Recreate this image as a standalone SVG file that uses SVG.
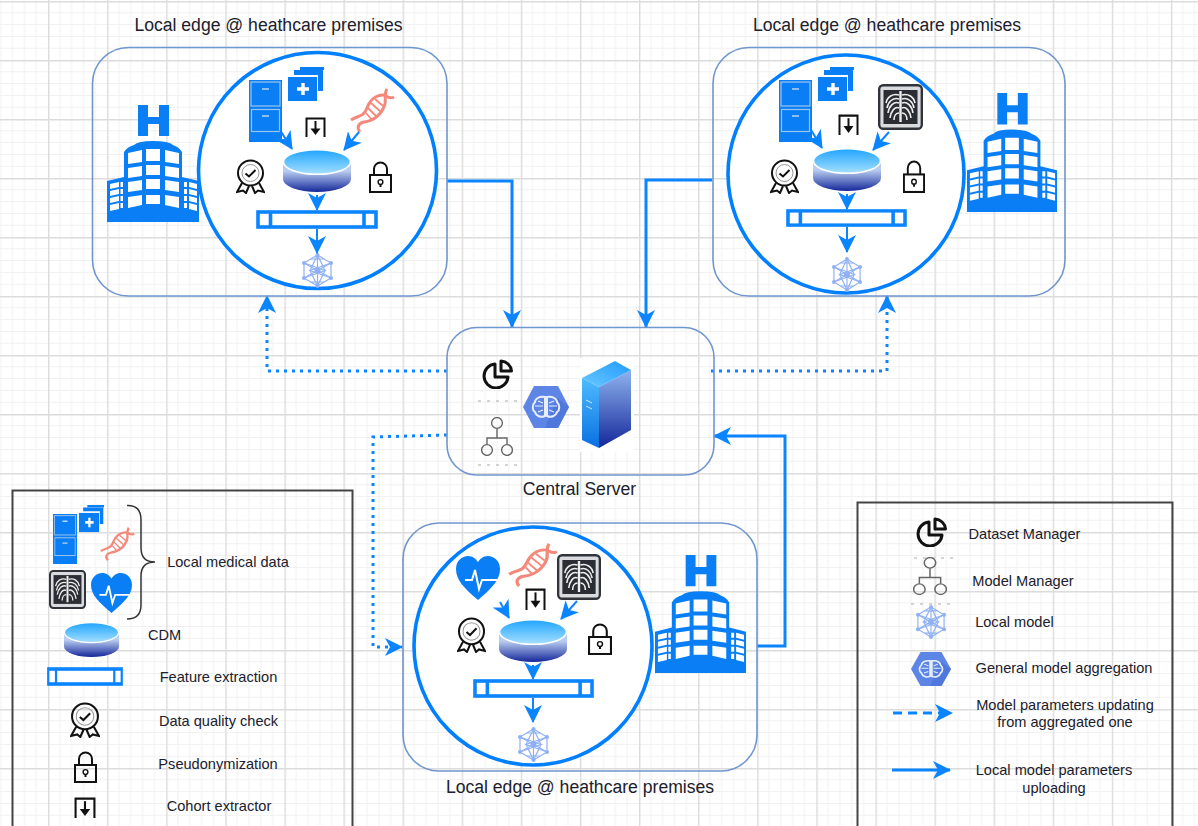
<svg xmlns="http://www.w3.org/2000/svg" xmlns:xlink="http://www.w3.org/1999/xlink" width="1198" height="826" viewBox="0 0 1198 826">
<style>
text{font-family:"Liberation Sans",Arial,sans-serif;fill:#20202c;text-anchor:middle}
.t{font-size:17.6px}.l{font-size:14.6px}
.edge{fill:none;stroke:#6f96cf;stroke-width:1.6}
.ring{fill:#fff;stroke:#007fff;stroke-width:3.6}
.leg{fill:none;stroke:#444;stroke-width:2}
.c{fill:none;stroke:#0a84ff;stroke-width:3}
.d{stroke-dasharray:3 5}
.i{fill:none;stroke:#0a84ff;stroke-width:2}
.k{fill:none;stroke:#111;stroke-width:2}
.w{fill:#fff}
.b{fill:#0a7ff5}
</style>
<defs>
<pattern id="grid" patternUnits="userSpaceOnUse" x="48" y="1" width="59.1" height="59">
<path d="M11.8,0V59M23.6,0V59M35.5,0V59M47.3,0V59M0,11.8H59.1M0,23.6H59.1M0,35.4H59.1M0,47.2H59.1" stroke="#f1f1f1" stroke-width="1" fill="none"/>
<path d="M0.7,0V59M0,0.7H59.1" stroke="#dcdcdc" stroke-width="1.4" fill="none"/>
</pattern>
<linearGradient id="gTop" x1="0" y1="0" x2="0" y2="1"><stop offset="0" stop-color="#1fa4ff"/><stop offset="1" stop-color="#a6e0ff"/></linearGradient>
<linearGradient id="gBody" x1="0" y1="0" x2="0" y2="1"><stop offset="0.3" stop-color="#b9cdf0"/><stop offset="1" stop-color="#14279a"/></linearGradient>
<linearGradient id="gL" x1="0" y1="0" x2="0" y2="1"><stop offset="0" stop-color="#4ebcff"/><stop offset="1" stop-color="#0a6fe0"/></linearGradient>
<linearGradient id="gR" x1="0" y1="0" x2="0" y2="1"><stop offset="0" stop-color="#8fb3ee"/><stop offset="1" stop-color="#14279a"/></linearGradient>
<linearGradient id="gS" x1="0" y1="1" x2="1" y2="0"><stop offset="0" stop-color="#6cc8ff"/><stop offset="1" stop-color="#1f9bff"/></linearGradient>
<marker id="big" markerUnits="userSpaceOnUse" viewBox="0 0 18 18" markerWidth="18" markerHeight="18" refX="17" refY="9" orient="auto"><path d="M0,0L18,9L0,18L5,9Z" fill="#0a84ff"/></marker>
<marker id="small" markerUnits="userSpaceOnUse" viewBox="0 0 18 18" markerWidth="18" markerHeight="18" refX="17" refY="9" orient="auto"><path d="M0,0L18,9L0,18L5,9Z" fill="#0a84ff"/></marker>
<symbol id="hospital" viewBox="0 0 93 117" preserveAspectRatio="none">
<path class="b" d="M31,0h10v12h11V0h10v31H52V19H41v12H31Z"/>
<path class="b" d="M0,117V76L17,72V47Q20,42 27,40Q31,36 46,36Q62,36 66,40Q72,42 75,47V72L92,76V117Z"/>
<path class="w" d="M21,48L35,45V57L21,59ZM39,44H53V56H39ZM58,45L72,48V59L58,57ZM21,63L35,61V71L21,73ZM39,60H53V70H39ZM58,61L72,63V73L58,71ZM21,77L35,75V85L21,87ZM39,74H53V84H39ZM58,75L72,77V87L58,85ZM21,92L35,90V100L21,103ZM39,90H53V99H39ZM58,90L72,92V103L58,100Z"/>
<path class="w" d="M3,79L12,77V82L3,84ZM13.5,77H16V82H13.5ZM3,86L12,84V89L3,91ZM13.5,84H16V89H13.5ZM3,93L12,91V96L3,98ZM13.5,91H16V96H13.5ZM3,100L12,98V104L3,106ZM13.5,98H16V103H13.5ZM77,77H80V82H77ZM82,77L90,79V84L82,82ZM77,84H80V89H77ZM82,84L90,86V91L82,89ZM77,91H80V96H77ZM82,91L90,93V98L82,96ZM77,98H80V103H77ZM82,98L90,100V106L82,104Z"/>
</symbol>
<symbol id="cabinet" viewBox="0 0 33 62" preserveAspectRatio="none">
<rect class="b" width="33" height="62"/>
<rect x="2" y="2" width="29" height="24" fill="#0a7ff5" stroke="#9cc4f0" stroke-width="1.200"/>
<rect x="2.500" y="29.500" width="28" height="22" fill="#0a7ff5" stroke="#9cc4f0" stroke-width="1.200"/>
<path d="M13,9h7M13,36h7" stroke="#b8d4f4" stroke-width="1.600"/>
</symbol>
<symbol id="folder" viewBox="0 0 36 34" preserveAspectRatio="none">
<path d="M6,9V3H35V24H30V8H6Z" class="b"/>
<path d="M12,0H36V3H12Z" class="b"/>
<rect class="b" y="10" width="29" height="24"/>
<path d="M15,16V28M9,22H21" stroke="#fff" stroke-width="3.400"/>
</symbol>
<symbol id="dna" viewBox="0 0 45 45" preserveAspectRatio="none">
<g fill="none" stroke="#f4897b">
<path stroke-width="3" d="M1,32C8,27 13,30 17,20C20,12 26,7 33,7C37,7 39,12 44,9"/>
<path stroke-width="3" d="M10,44C6,39 9,35 14,34C24,33 32,26 35,16C36,10 34,5 37,1"/>
<path stroke-width="1.800" d="M18,20L27,29M21,15L31,24M16,25L22,32M25,11L33,18"/>
</g>
</symbol>
<symbol id="cohort" viewBox="0 0 21 20" preserveAspectRatio="none">
<path class="k" d="M1.500,20V1.500H19.500V20"/>
<path class="k" d="M10.500,4V14"/>
<path d="M5.500,11.500H15.500L10.500,18Z" fill="#111"/>
</symbol>
<symbol id="badge" viewBox="0 0 29 35" preserveAspectRatio="none">
<circle class="k" cx="14.500" cy="14" r="12.500"/>
<circle cx="14.500" cy="14" r="8.500" fill="none" stroke="#999" stroke-width="1"/>
<path class="k" d="M9.500,14.500L13,17.500L19.500,11"/>
<path class="k" d="M6,24L1,33L7,31.500L10,34L13,27M23,24L28,33L22,31.500L19,34L16,27"/>
</symbol>
<symbol id="lock" viewBox="0 0 23 32" preserveAspectRatio="none">
<path class="k" d="M5,14V8A6.500,6.500 0 0 1 18,8V14"/>
<rect class="k" x="1" y="14" width="21" height="17"/>
<circle cx="11.500" cy="21" r="2.400" fill="none" stroke="#111" stroke-width="1.400"/><path class="k" stroke-width="1.400" d="M11.500,23V26"/>
</symbol>
<symbol id="cyl" viewBox="0 0 68 43" preserveAspectRatio="none">
<path fill="url(#gBody)" d="M0,13V30A34,13 0 0 0 68,30V13Z"/>
<ellipse cx="34" cy="13" rx="33.500" ry="12.300" fill="url(#gTop)" stroke="#fff" stroke-width="1.600"/>
</symbol>
<symbol id="bar" viewBox="0 0 122 19" preserveAspectRatio="none">
<rect x="2" y="2" width="118" height="15" fill="#fff" stroke="#0a84ff" stroke-width="3.600"/>
<path d="M14.500,2V17M108,2V17" stroke="#0a84ff" stroke-width="3.600"/>
</symbol>
<symbol id="model" viewBox="0 0 31 35" preserveAspectRatio="none">
<g fill="none" stroke="#8fb0f5" stroke-width="1.200">
<path d="M15.500,2L29,10V25L15.500,33L2,25V10Z"/>
<path d="M15.500,2V33M2,10L29,25M29,10L2,25"/>
<path d="M15.500,2L8,17.500L15.500,33L23,17.500Z"/>
<path d="M2,10L23,17.500L2,25M29,10L8,17.500L29,25"/>
<path d="M9,6L22,6M9,29L22,29"/>
</g>
<g fill="#8fb0f5"><circle cx="15.500" cy="2" r="2"/><circle cx="29" cy="10" r="2"/><circle cx="29" cy="25" r="2"/><circle cx="15.500" cy="33" r="2"/><circle cx="2" cy="25" r="2"/><circle cx="2" cy="10" r="2"/><circle cx="15.500" cy="17.500" r="3"/></g>
</symbol>
<symbol id="pie" viewBox="0 0 31 30" preserveAspectRatio="none">
<path fill="none" stroke="#111" stroke-width="3" stroke-linejoin="round" d="M13,5A12,12 0 1 0 26,18H13Z"/>
<path fill="none" stroke="#111" stroke-width="3" stroke-linejoin="round" d="M19,2A11,11 0 0 1 29.500,12H19Z"/>
</symbol>
<symbol id="tree" viewBox="0 0 32 39" preserveAspectRatio="none">
<g fill="none" stroke="#666" stroke-width="1.400">
<circle cx="16" cy="6" r="5.400"/><circle cx="6" cy="33" r="5.400"/><circle cx="26" cy="33" r="5.400"/>
<path d="M16,11.500V21M6,27.500V21H26V27.500"/>
</g>
</symbol>
<symbol id="hex" viewBox="0 0 46 42" preserveAspectRatio="none">
<path fill="#5c85e6" d="M11,0H35L46,21L35,42H11L0,21Z"/>
<path fill="#5078dc" d="M34,12L46,21L35,42H22Z"/>
<g fill="none" stroke="#e6eefc" stroke-width="2">
<path d="M22,11C16,10 12,13 12,16C9,19 9,24 12,26C13,30 18,32 22,30Z"/>
<path d="M24,11C30,10 34,13 34,16C37,19 37,24 34,26C33,30 28,32 24,30Z"/>
<path stroke-width="1.200" d="M12,20H20M15,15L20,17M15,26L20,24M34,20H26M31,15L26,17M31,26L26,24"/>
</g>
</symbol>
<symbol id="xray" viewBox="0 0 45 46" preserveAspectRatio="none">
<rect x="1.200" y="1.200" width="42.600" height="43.600" rx="4" fill="#d9dbde" stroke="#30343a" stroke-width="2.400"/>
<rect x="5.500" y="6" width="34" height="34" fill="#2a2e34"/>
<g fill="none" stroke="#eeeeee">
<path stroke-width="2.400" d="M22.500,7V38"/>
<path stroke-width="1.600" d="M21,11C15,9 9,13 8,19M21,15C15,13 10,18 9,24M21,19C16,17 11,22 10,29M21,24C17,22 13,27 12,34M21,29C18,29 16,32 16,36M24,11C30,9 36,13 37,19M24,15C30,13 35,18 36,24M24,19C29,17 34,22 35,29M24,24C28,22 32,27 33,34M24,29C27,29 29,32 29,36"/>
</g>
</symbol>
<symbol id="heart" viewBox="0 0 44 44" preserveAspectRatio="none">
<path class="b" d="M22,44C8,32 0,24 0,13C0,5 6,0 12,0C17,0 20,3 22,6C24,3 27,0 32,0C38,0 44,5 44,13C44,24 36,32 22,44Z"/>
<path fill="none" stroke="#fff" stroke-width="2" d="M9,24H16L19,14L23,33L26,24H41"/>
</symbol>
</defs>

<rect width="1198" height="826" fill="#fff"/>
<rect id="canvas-grid" width="1198" height="826" fill="url(#grid)"/>

<g id="connectors">
<path class="c" marker-end="url(#big)" d="M447,181H512V327"/>
<path class="c" marker-end="url(#big)" d="M712,180H646V327"/>
<path class="c" marker-end="url(#big)" d="M757,646H785V436H714"/>
<path class="c d" marker-end="url(#big)" d="M447,371H267V296"/>
<path class="c d" marker-end="url(#big)" d="M711,371H887V296"/>
<path class="c d" marker-end="url(#big)" d="M447,435L373,437V647H402"/>
</g>

<g id="edge-top-left">
<rect class="edge" x="92.500" y="47.500" width="354.500" height="248.500" rx="36"/>
<use href="#hospital" x="107" y="105" width="93" height="117"/>
<ellipse class="ring" cx="317.500" cy="170.500" rx="119" ry="118"/>
<use href="#cabinet" x="249" y="80" width="33" height="62"/>
<use href="#folder" x="288" y="67" width="36" height="34"/>
<use href="#dna" x="350" y="88" width="45" height="45"/>
<use href="#cohort" x="305" y="117" width="21" height="20"/>
<use href="#badge" x="236" y="159" width="29" height="35"/>
<use href="#lock" x="369" y="161" width="23" height="32"/>
<use href="#cyl" x="283" y="149" width="68" height="43"/>
<use href="#bar" x="256" y="210" width="122" height="19"/>
<use href="#model" x="302" y="253" width="31" height="35"/>
<path class="i" marker-end="url(#small)" d="M280,130L292,149"/>
<path class="i" marker-end="url(#small)" d="M359,132L344,150"/>
<path class="i" marker-end="url(#small)" d="M317,195V210"/>
<path class="i" marker-end="url(#small)" d="M317,229V253"/>
<text class="t" x="268.500" y="31">Local edge @ heathcare premises</text>
</g>

<g id="edge-top-right">
<rect class="edge" x="713" y="47.500" width="352" height="248.500" rx="36"/>
<use href="#hospital" x="967" y="93" width="91" height="119"/>
<ellipse class="ring" cx="846" cy="174" rx="118" ry="119"/>
<use href="#cabinet" x="779" y="80" width="33" height="62"/>
<use href="#folder" x="818" y="67" width="36" height="34"/>
<use href="#xray" x="878" y="84" width="45" height="46"/>
<use href="#cohort" x="838" y="114" width="21" height="21"/>
<use href="#badge" x="770" y="159" width="29" height="35"/>
<use href="#lock" x="903" y="160" width="22" height="33"/>
<use href="#cyl" x="813" y="148" width="68" height="43"/>
<use href="#bar" x="786" y="209" width="121" height="18"/>
<use href="#model" x="832" y="257" width="30" height="35"/>
<path class="i" marker-end="url(#small)" d="M811,130L822,148"/>
<path class="i" marker-end="url(#small)" d="M889,132L873,150"/>
<path class="i" marker-end="url(#small)" d="M847,194V209"/>
<path class="i" marker-end="url(#small)" d="M847,227V252"/>
<text class="t" x="887" y="31">Local edge @ heathcare premises</text>
</g>

<g id="edge-bottom">
<rect class="edge" x="403" y="523" width="354" height="248" rx="36"/>
<use href="#hospital" x="655" y="555" width="92" height="118"/>
<ellipse class="ring" cx="533" cy="646" rx="119" ry="119"/>
<use href="#heart" x="456" y="556" width="44" height="44"/>
<use href="#dna" x="508" y="543" width="50" height="44"/>
<use href="#xray" x="557" y="554" width="44" height="46"/>
<use href="#cohort" x="525" y="588" width="21" height="22"/>
<use href="#badge" x="457" y="617" width="29" height="36"/>
<use href="#lock" x="588" y="623" width="24" height="32"/>
<use href="#cyl" x="499" y="619" width="68" height="43"/>
<use href="#bar" x="473" y="679" width="121" height="19"/>
<use href="#model" x="518" y="727" width="31" height="35"/>
<path class="i" marker-end="url(#small)" d="M500,602L509,618"/>
<path class="i" marker-end="url(#small)" d="M577,601L561,619"/>
<path class="i" marker-end="url(#small)" d="M533,665V679"/>
<path class="i" marker-end="url(#small)" d="M533,698V722"/>
<text class="t" x="580" y="793">Local edge @ heathcare premises</text>
</g>

<g id="central-server">
<rect class="edge" x="447" y="327.500" width="267" height="147.500" rx="30"/>
<rect class="w" x="580" y="358" width="54" height="94"/>
<use href="#pie" x="482" y="359" width="31" height="30"/>
<path d="M478,401H520M478,465H518" stroke="#aaa" stroke-width="1" stroke-dasharray="3 6" fill="none"/>
<use href="#tree" x="481" y="417" width="32" height="39"/>
<use href="#hex" x="523" y="386" width="46" height="42"/>
<path fill="url(#gL)" d="M582,378L599,387V448L582,440Z"/>
<path fill="url(#gR)" d="M599,387L631,370V430L599,448Z"/>
<path fill="url(#gS)" d="M582,378L615,361L631,370L599,387Z"/>
<path d="M586,400L592,403M586,406L592,409" stroke="#cfe6ff" stroke-width="1"/>
<text class="t" x="579.500" y="495">Central Server</text>
</g>

<g id="legend-left">
<path class="leg" d="M12.500,826V490.500H352.500V826"/>
<use href="#cabinet" x="53" y="514" width="24" height="50"/>
<use href="#folder" x="79" y="505" width="25" height="27"/>
<use href="#dna" x="100" y="527" width="35" height="34"/>
<use href="#xray" x="49" y="570" width="37" height="39"/>
<use href="#heart" x="91" y="573" width="41" height="40"/>
<path fill="none" stroke="#333" stroke-width="1.500" d="M127,505.500Q141,505 141,520V548Q141,562 155,562Q141,562 141,576V605Q141,619 127,619"/>
<text class="l" x="228" y="567">Local medical data</text>
<use href="#cyl" x="64" y="622" width="55" height="35"/>
<text class="l" x="164.500" y="640">CDM</text>
<use href="#bar" x="47" y="667" width="76" height="19"/>
<text class="l" x="218.500" y="682">Feature extraction</text>
<use href="#badge" x="70" y="702" width="30" height="36"/>
<text class="l" x="218.500" y="726">Data quality check</text>
<use href="#lock" x="74" y="751" width="23" height="32"/>
<text class="l" x="218" y="769">Pseudonymization</text>
<use href="#cohort" x="74" y="797" width="22" height="21"/>
<text class="l" x="219" y="811">Cohort extractor</text>
</g>

<g id="legend-right">
<path class="leg" d="M857.500,826V502.500H1172.500V826"/>
<use href="#pie" x="916" y="517" width="31" height="30"/>
<text class="l" x="1024.500" y="539">Dataset Manager</text>
<path d="M914,558H955M911,604H952" stroke="#aaa" stroke-width="1" stroke-dasharray="3 6" fill="none"/>
<use href="#tree" x="913" y="557" width="34" height="38"/>
<text class="l" x="1023" y="586">Model Manager</text>
<use href="#model" x="916" y="605" width="30" height="34"/>
<text class="l" x="1014.500" y="627">Local model</text>
<use href="#hex" x="911" y="652" width="40" height="34"/>
<text class="l" x="1064" y="673">General model aggregation</text>
<path class="c" stroke-dasharray="9 6" marker-end="url(#big)" d="M893,713H952"/>
<text class="l" x="1065" y="710">Model parameters updating</text>
<text class="l" x="1065" y="727">from aggregated one</text>
<path class="c" marker-end="url(#big)" d="M892,770H950"/>
<text class="l" x="1054" y="775">Local model parameters</text>
<text class="l" x="1054" y="793">uploading</text>
</g>
</svg>
